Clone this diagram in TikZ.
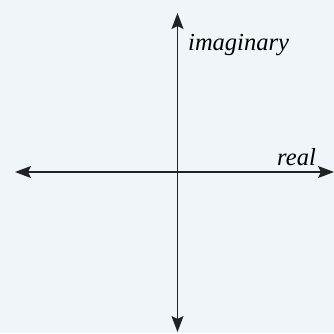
\documentclass[tikz,border=0pt]{standalone}
\usepackage{fontspec}
\setmainfont{Liberation Serif}
\usetikzlibrary{arrows.meta}
\definecolor{bg}{HTML}{EFF5F8}
\definecolor{axis}{HTML}{222222}
\begin{document}
\begin{tikzpicture}[x=1pt,y=-1pt,
  axisline/.style={draw=axis,line width=1.3pt,{Stealth[length=16pt,width=12pt,inset=3pt]}-{Stealth[length=16pt,width=12pt,inset=3pt]}},
  lbl/.style={font=\fontsize{24.5}{26}\selectfont\itshape,text=black,inner sep=0pt}]
\fill[bg] (0,0) rectangle (334,333);
\useasboundingbox (0,0) rectangle (334,333);
\coordinate (L) at (15,172);
\coordinate (R) at (334,172);
\coordinate (T) at (177.5,13);
\coordinate (B) at (177.5,332);
\draw[axisline] (L) -- (R);
\draw[axisline] (B) -- (T);
\node[lbl,anchor=base west] (im) at (188,50) {imaginary};
\node[lbl,anchor=base east] (re) at (316,165) {real};
\end{tikzpicture}
\end{document}
